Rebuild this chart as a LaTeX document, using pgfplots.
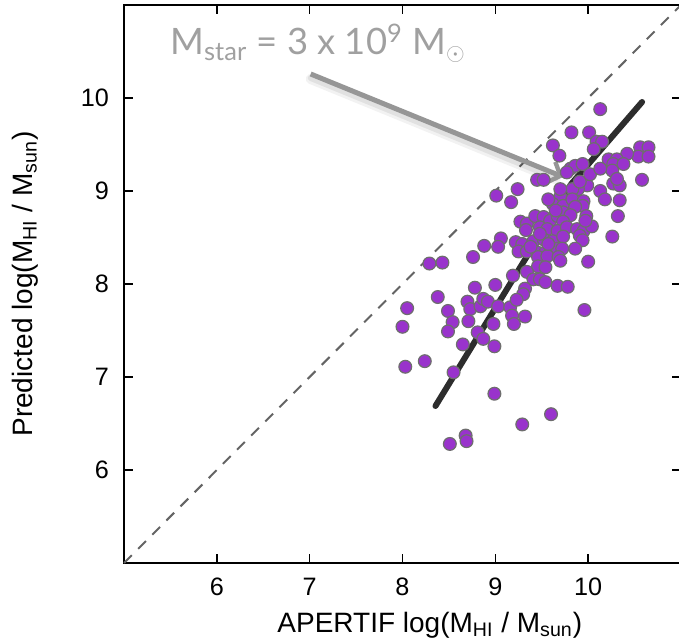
\documentclass[border=0pt]{standalone}
\usepackage{fontspec}
\setmainfont{Liberation Sans}
\newfontfamily\annotfont{Lato}
\usepackage{pgfplots}
\pgfplotsset{compat=1.18}
\usetikzlibrary{arrows.meta}
\definecolor{dotfill}{RGB}{153,51,204}
\definecolor{dotedge}{RGB}{110,110,110}
\definecolor{fitcol}{RGB}{45,45,45}
\definecolor{dashcol}{RGB}{100,100,100}
\definecolor{annotgray}{RGB}{160,160,160}
\definecolor{arrowgray}{RGB}{150,150,150}
\begin{document}
\begin{tikzpicture}
\begin{axis}[
  scale only axis, width=278.5pt, height=279pt,
  xmin=5, xmax=11, ymin=5, ymax=11,
  xtick={6,7,8,9,10}, ytick={6,7,8,9,10},
  tick align=inside, major tick length=4.5pt,
  axis line style={line width=1pt},
  tick style={line width=0.8pt, black},
  ticklabel style={font=\fontsize{12.6}{15}\selectfont},
  /pgf/number format/assume math mode=true,
  xticklabel style={yshift=-4pt},
  yticklabel style={xshift=-4pt},
  xlabel={APERTIF log(M\textsubscript{HI} / M\textsubscript{sun})},
  ylabel={Predicted log(M\textsubscript{HI} / M\textsubscript{sun})},
  label style={font=\fontsize{14}{17}\selectfont},
  xlabel style={at={(rel axis cs:0.549,-0.1237)}, anchor=base},
  ylabel style={at={(rel axis cs:-0.1777,0.5)}, anchor=center},
  clip=false,
]
\addplot[dashcol, line width=1pt, dash pattern=on 5.5pt off 4.5pt] coordinates {(5,5) (11,11)};
\addplot[only marks, mark=*, mark size=3.2pt, mark options={fill=dotfill, draw=dotedge, line width=0.6pt}] table {
x y
10.13 9.88
9.82 9.63
10.01 9.63
9.62 9.49
9.69 9.38
10.09 9.53
10.15 9.53
10.06 9.45
10.56 9.47
10.65 9.47
10.54 9.37
10.65 9.37
10.42 9.40
10.22 9.34
10.31 9.34
10.27 9.29
10.38 9.29
10.26 9.22
9.81 9.24
9.86 9.27
9.94 9.29
9.77 9.20
9.45 9.12
9.52 9.12
10.58 9.12
10.27 9.08
10.34 9.06
10.31 9.13
9.99 9.06
9.89 9.02
9.83 9.02
9.24 9.02
9.01 8.95
9.17 8.88
9.70 8.94
9.62 8.86
9.73 8.84
9.83 8.91
9.95 8.89
9.94 8.84
9.86 8.83
10.34 8.90
10.32 8.73
9.98 8.73
9.27 8.67
9.34 8.65
9.43 8.73
9.52 8.72
9.59 8.68
9.67 8.73
9.73 8.77
9.81 8.74
9.73 8.67
9.33 8.58
9.48 8.61
9.56 8.59
9.67 8.57
9.77 8.61
9.88 8.59
9.95 8.57
10.04 8.62
9.91 8.52
9.94 8.47
10.26 8.51
9.06 8.49
9.22 8.45
9.29 8.43
9.41 8.46
9.52 8.48
9.62 8.46
9.73 8.51
8.88 8.41
9.03 8.40
9.25 8.35
9.34 8.35
9.45 8.34
9.54 8.34
9.67 8.38
9.72 8.38
8.76 8.29
9.46 8.29
9.56 8.30
9.68 8.29
10.00 8.24
8.29 8.22
8.43 8.23
9.46 8.19
9.54 8.18
9.34 8.13
9.41 8.05
9.48 8.05
9.54 8.02
9.67 7.98
9.78 7.97
9.19 8.09
9.00 7.99
8.78 7.96
9.32 7.95
9.30 7.89
8.38 7.86
8.05 7.74
8.70 7.81
8.73 7.73
8.84 7.76
8.87 7.84
8.92 7.81
9.03 7.76
9.16 7.75
9.23 7.83
8.49 7.71
9.96 7.72
8.54 7.59
8.71 7.60
8.81 7.48
8.98 7.57
9.18 7.66
9.32 7.65
9.20 7.57
8.00 7.54
8.49 7.49
8.65 7.35
8.99 7.33
8.87 7.41
8.03 7.11
8.24 7.17
8.55 7.05
8.99 6.82
8.51 6.28
8.68 6.37
8.69 6.31
9.29 6.49
9.60 6.60
9.91 9.10
10.02 9.18
10.13 9.24
9.70 9.02
9.57 8.91
9.65 8.79
9.48 8.54
9.38 8.40
9.57 8.43
9.70 8.25
9.86 8.38
9.97 8.68
10.13 9.00
10.18 8.91
};
\addplot[fitcol, line width=3pt, line cap=round, line join=round] coordinates {(8.355,6.688) (9.817,9.075) (10.581,9.957)};
\draw[line width=5pt, black, opacity=0.05, line cap=round] ([yshift=-2.5pt]axis cs:7.011,10.258) -- ([yshift=-2.5pt]axis cs:9.65,9.18);
\draw[line width=3pt, black, opacity=0.07, line cap=round] ([yshift=-2pt]axis cs:7.011,10.258) -- ([yshift=-2pt]axis cs:9.65,9.18);
\draw[arrowgray, line width=2.5pt, -{Straight Barb[length=5pt, width=11pt, line width=2.2pt]}] (axis cs:7.011,10.258) -- (axis cs:9.731,9.151);
\node[anchor=base west, inner sep=0pt, text=annotgray, font=\annotfont\fontsize{18.2}{21}\selectfont] at (rel axis cs:0.0826,0.9104) {M\textsubscript{star} = 3 x 10\textsuperscript{9} M\textsubscript{$\odot$}};
\coordinate (bbsw) at (rel axis cs:-0.22262,-0.14516);
\coordinate (bbne) at (rel axis cs:0.99641,1.00896);
\end{axis}
\pgfresetboundingbox
\useasboundingbox (bbsw) rectangle (bbne);
\end{tikzpicture}
\end{document}
